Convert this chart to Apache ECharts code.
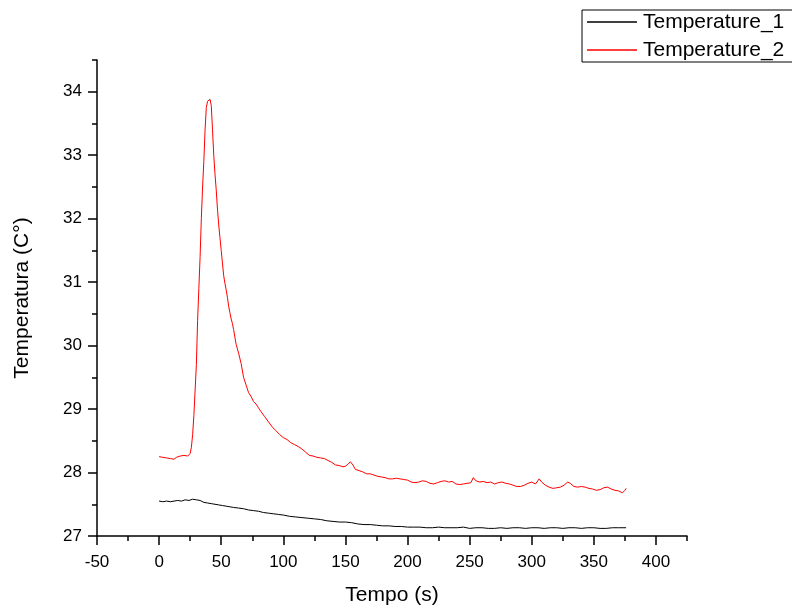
<!DOCTYPE html>
<html>
<head>
<meta charset="utf-8">
<script src="https://cdn.jsdelivr.net/npm/echarts@6/dist/echarts.min.js"></script>
<style>
html,body{margin:0;padding:0;background:#fff;}
#chart{width:792px;height:605px;}
</style>
</head>
<body>
<div id="chart"></div>
<script>
// Temperature_1 (black)
var t1 = [0,3,6,9,12,15,18,21,24,27,30,33,36,39,42,45,48,51,54,57,60,64,68,72,76,80,84,88,92,96,100,105,110,115,120,125,130,135,140,145,150,155,160,165,170,175,180,185,190,195,200,205,210,215,220,225,230,235,240,245,250,255,260,265,270,275,280,285,290,295,300,305,310,315,320,325,330,335,340,345,350,355,360,365,370,376];
var v1 = [27.55,27.54,27.55,27.54,27.55,27.56,27.55,27.57,27.56,27.58,27.57,27.56,27.53,27.52,27.51,27.50,27.49,27.48,27.47,27.46,27.45,27.44,27.43,27.41,27.40,27.39,27.37,27.36,27.35,27.34,27.33,27.31,27.30,27.29,27.28,27.27,27.26,27.24,27.23,27.22,27.22,27.21,27.19,27.18,27.18,27.17,27.16,27.16,27.15,27.15,27.14,27.14,27.14,27.13,27.13,27.14,27.13,27.13,27.13,27.14,27.12,27.13,27.13,27.12,27.12,27.13,27.12,27.13,27.13,27.12,27.13,27.13,27.12,27.13,27.13,27.12,27.13,27.13,27.12,27.13,27.13,27.12,27.12,27.13,27.13,27.13];

// Temperature_2 (red)
var t2 = [0,3,6,9,12,14,17,20,23,25,26,27,28,29,30,31,32,33,34,35,36,37,38,39,40,41,42,43,44,45,46,47,48,49,50,51,52,53,54,55,56,57,58,59,60,62,64,66,68,70,72,74,76,78,80,82,85,88,91,94,97,100,103,106,109,112,115,118,121,124,127,130,133,136,139,142,145,148,150,152,154,156,158,161,164,167,170,173,176,179,182,185,188,191,194,197,200,203,206,209,212,215,218,221,224,227,230,233,236,239,242,245,248,251,253,255,258,261,264,267,270,273,276,279,282,285,288,291,294,297,300,303,306,308,311,314,317,320,323,326,329,331,334,337,340,343,346,349,352,355,358,361,364,367,370,373,375,376];
var v2 = [28.25,28.24,28.23,28.22,28.21,28.24,28.26,28.27,28.26,28.30,28.40,28.60,28.90,29.30,29.70,30.40,30.90,31.40,32.00,32.50,32.90,33.40,33.75,33.85,33.82,33.88,33.78,33.40,33.00,32.70,32.45,32.15,31.90,31.70,31.50,31.30,31.10,30.98,30.88,30.76,30.62,30.52,30.42,30.35,30.25,30.02,29.88,29.72,29.50,29.38,29.26,29.20,29.12,29.08,29.02,28.96,28.88,28.80,28.72,28.66,28.60,28.55,28.52,28.47,28.44,28.41,28.37,28.32,28.27,28.26,28.24,28.23,28.22,28.19,28.16,28.12,28.11,28.09,28.10,28.13,28.17,28.12,28.05,28.03,28.01,27.98,27.98,27.96,27.94,27.93,27.92,27.90,27.90,27.91,27.90,27.89,27.88,27.85,27.84,27.85,27.87,27.86,27.83,27.82,27.84,27.86,27.87,27.85,27.86,27.82,27.81,27.82,27.83,27.84,27.92,27.87,27.85,27.86,27.84,27.85,27.82,27.84,27.85,27.83,27.82,27.80,27.78,27.78,27.80,27.83,27.85,27.82,27.90,27.85,27.80,27.77,27.75,27.76,27.77,27.80,27.85,27.83,27.78,27.77,27.78,27.77,27.75,27.74,27.72,27.73,27.76,27.77,27.74,27.72,27.71,27.68,27.72,27.75];

function pairs(t, v){ return t.map(function(x,i){ return [x, v[i]]; }); }

var FONT = 'Liberation Sans, Arial, sans-serif';
var chart = echarts.init(document.getElementById('chart'), null, {renderer:'canvas'});
var tickStyle = {color: '#000', width: 1.5};
chart.setOption({
  animation: false,
  backgroundColor: '#ffffff',
  grid: {left: 97, right: 105, top: 60, bottom: 69, containLabel: false, outerBoundsMode: 'none'},
  legend: {
    left: 582, top: 10, orient: 'vertical',
    padding: [0, 30, 0, 5],
    itemGap: 4,
    itemWidth: 50, itemHeight: 1.5,
    icon: 'rect',
    borderColor: '#000', borderWidth: 1,
    textStyle: {fontFamily: FONT, fontSize: 21, color: '#000', lineHeight: 24, padding: [0,0,0,1]},
    data: ['Temperature_1', 'Temperature_2']
  },
  xAxis: [{
    type: 'value', min: -50, max: 425, interval: 50, position: 'bottom',
    name: 'Tempo (s)', nameLocation: 'middle', nameGap: 49,
    nameTextStyle: {fontFamily: FONT, fontSize: 21, color: '#000'},
    axisLine: {show: true, onZero: false, lineStyle: {color: '#000', width: 1.5}},
    axisTick: {show: true, inside: false, length: 9, lineStyle: tickStyle},
    axisLabel: {show: true, fontFamily: FONT, fontSize: 17, color: '#000', margin: 18, showMaxLabel: false, hideOverlap: false},
    splitLine: {show: false}
  }, {
    type: 'value', min: -50, max: 425, interval: 25, position: 'bottom',
    axisLine: {show: false, onZero: false},
    axisTick: {show: true, inside: false, length: 5, lineStyle: tickStyle},
    axisLabel: {show: false},
    splitLine: {show: false}
  }],
  yAxis: [{
    type: 'value', min: 27, max: 34.5, interval: 1, position: 'left',
    name: 'Temperatura (C°)', nameLocation: 'middle', nameGap: 64, nameRotate: 90,
    nameTextStyle: {fontFamily: FONT, fontSize: 21, color: '#000'},
    axisLine: {show: true, onZero: false, lineStyle: {color: '#000', width: 1.5}},
    axisTick: {show: true, inside: false, length: 9, lineStyle: tickStyle},
    axisLabel: {show: true, fontFamily: FONT, fontSize: 17, color: '#000', margin: 15, showMaxLabel: false, hideOverlap: false},
    splitLine: {show: false}
  }, {
    type: 'value', min: 27, max: 34.5, interval: 0.5, position: 'left',
    axisLine: {show: false, onZero: false},
    axisTick: {show: true, inside: false, length: 5, lineStyle: tickStyle},
    axisLabel: {show: false},
    splitLine: {show: false}
  }],
  series: [{
    name: 'Temperature_1', type: 'line', xAxisIndex: 0, yAxisIndex: 0,
    showSymbol: false, symbol: 'none',
    color: '#000000',
    lineStyle: {color: '#000000', width: 1},
    data: pairs(t1, v1)
  }, {
    name: 'Temperature_2', type: 'line', xAxisIndex: 0, yAxisIndex: 0,
    showSymbol: false, symbol: 'none',
    color: '#ff0000',
    lineStyle: {color: '#ff0000', width: 1},
    data: pairs(t2, v2)
  }]
});
</script>
</body>
</html>
